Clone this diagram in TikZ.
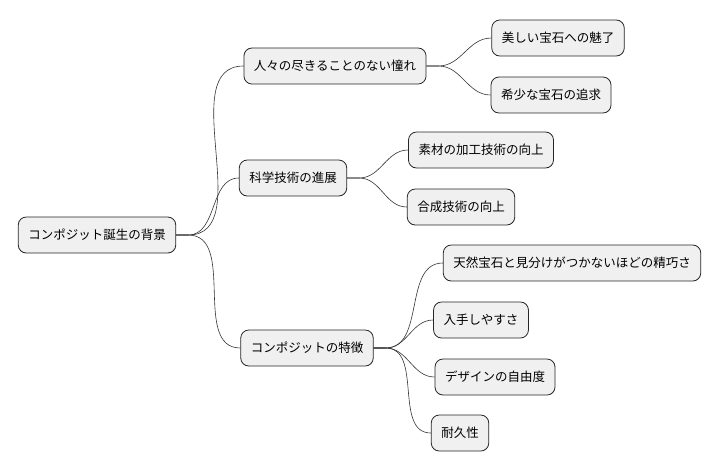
\documentclass[tikz,border=0pt]{standalone}
\usepackage{fontspec}
\newfontfamily\cjk{Noto Sans CJK JP}
\tikzset{
  topic/.style={draw=black!85, fill=black!6, rounded corners=8pt, line width=0.8pt,
    minimum height=36pt, inner xsep=10pt, font=\cjk\fontsize{12.5}{15}\selectfont},
  link/.style={draw=black!80, line width=0.6pt}
}
\begin{document}
\begin{tikzpicture}[x=1pt,y=-1pt]
\useasboundingbox (0,0) rectangle (727,472);
% root
\node[topic] (root) at (97,235) {コンポジット誕生の背景};
% first level
\node[topic] (longing) at (335,66) {人々の尽きることのない憧れ};
\node[topic] (tech) at (293,178) {科学技術の進展};
\node[topic] (traits) at (307,348) {コンポジットの特徴};
% second level
\node[topic] (charm) at (558,38) {美しい宝石への魅了};
\node[topic] (rare) at (551,95) {希少な宝石の追求};
\node[topic] (craft) at (481,150) {素材の加工技術の向上};
\node[topic] (synth) at (461,207) {合成技術の向上};
\node[topic] (fine) at (572,263) {天然宝石と見分けがつかないほどの精巧さ};
\node[topic] (easy) at (481,320) {入手しやすさ};
\node[topic] (design) at (495,377) {デザインの自由度};
\node[topic] (durable) at (460,433) {耐久性};
% connectors
\foreach \a/\b in {root/longing, root/tech, root/traits,
  longing/charm, longing/rare, tech/craft, tech/synth,
  traits/fine, traits/easy, traits/design, traits/durable}
  \draw[link] (\a.east) -- ++(12,0) to[out=0, in=180] (\b.west);
\end{tikzpicture}
\end{document}
